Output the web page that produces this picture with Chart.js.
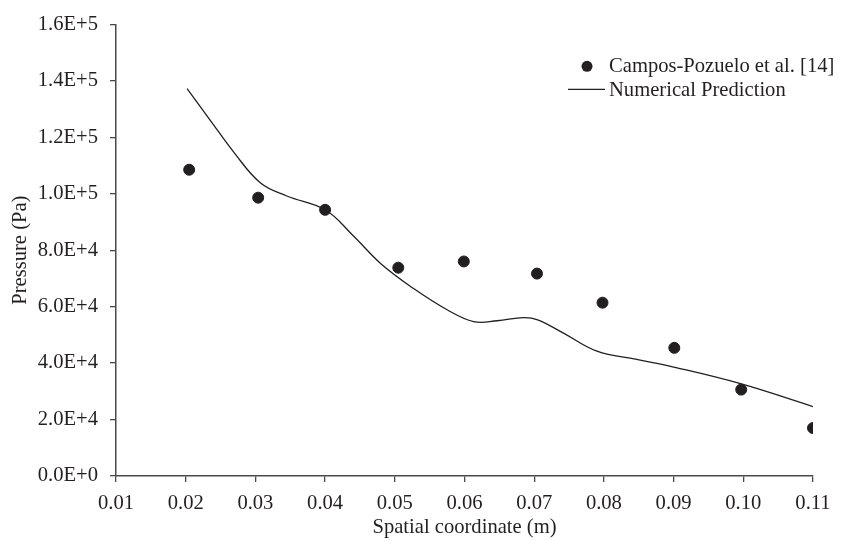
<!DOCTYPE html>
<html>
<head>
<meta charset="utf-8">
<script src="https://cdn.jsdelivr.net/npm/chart.js@4"></script>
<style>
  html, body { margin: 0; padding: 0; background: #fff; }
  #wrap { width: 842px; height: 541px; }
</style>
</head>
<body>
<div id="wrap"><canvas id="pressureChart" width="842" height="541"></canvas></div>
<script>
// measured points (Campos-Pozuelo et al.)
var expX = [0.0205, 0.0304, 0.0400, 0.0505, 0.0599, 0.0704, 0.0798, 0.0901, 0.0997, 0.1100];
var expY = [108500, 98600, 94300, 73800, 76000, 71700, 61400, 45400, 30600, 17000];

// numerical prediction curve
var numX = [0.0202, 0.0235, 0.027, 0.0307, 0.0345, 0.040, 0.044, 0.048, 0.0527, 0.0575,
            0.0613, 0.0647, 0.0685, 0.0705, 0.0742, 0.079, 0.0847, 0.090, 0.0996, 0.110];
var numY = [137200, 126100, 114400, 103900, 99200, 94300, 85200, 75200, 66400, 58900,
            54700, 55000, 56100, 55300, 50600, 44200, 41300, 38600, 32700, 24600];

var seriesLabels = ['Campos-Pozuelo et al. [14]', 'Numerical Prediction'];
var xTicks = { min: 0.01, max: 0.11, step: 0.01 };
var yTicks = { min: 0, max: 160000, step: 20000 };

(function () {
  var ink = '#231f20';
  var axisCol = '#4a4a4a';
  var font = { family: '"Liberation Serif", "Times New Roman", serif', size: 20.6 };

  function pts(xs, ys) {
    return xs.map(function (x, i) { return { x: x, y: ys[i] }; });
  }

  function sci(v) {
    if (v === 0) return '0.0E+0';
    var e = Math.floor(Math.log10(v) + 1e-9);
    return (v / Math.pow(10, e)).toFixed(1) + 'E+' + e;
  }

  // legend drawn inside the plot, top right
  var innerLegend = {
    id: 'innerLegend',
    afterDraw: function (chart) {
      var c = chart.ctx, a = chart.chartArea;
      var tx = a.right - 204, y1 = a.top + 42, y2 = a.top + 65;
      c.save();
      c.font = font.size + 'px ' + font.family;
      c.fillStyle = ink;
      c.textBaseline = 'middle';
      c.textAlign = 'left';
      c.beginPath();
      c.arc(tx - 22, y1, 5.5, 0, Math.PI * 2);
      c.fill();
      c.fillText(chart.data.datasets[0].label, tx, y1);
      c.strokeStyle = ink;
      c.lineWidth = 1.3;
      c.beginPath();
      c.moveTo(tx - 41, y2);
      c.lineTo(tx - 4, y2);
      c.stroke();
      c.fillText(chart.data.datasets[1].label, tx, y2 + 1);
      c.restore();
    }
  };

  new Chart(document.getElementById('pressureChart'), {
    type: 'scatter',
    data: {
      datasets: [{
        label: seriesLabels[0],
        data: pts(expX, expY),
        backgroundColor: ink,
        borderColor: ink,
        pointRadius: 5.5,
        pointHoverRadius: 5.5,
        showLine: false,
      }, {
        label: seriesLabels[1],
        data: pts(numX, numY),
        borderColor: ink,
        borderWidth: 1.3,
        pointRadius: 0,
        showLine: true,
        tension: 0.4,
      }],
    },
    options: {
      responsive: false,
      animation: false,
      layout: { padding: { left: 0, top: 20, right: 29, bottom: 0 } },
      plugins: { legend: { display: false }, tooltip: { enabled: false } },
      scales: {
        x: {
          type: 'linear',
          min: xTicks.min,
          max: xTicks.max,
          afterFit: function (s) { s.height = 65; },
          ticks: {
            stepSize: xTicks.step,
            color: ink,
            font: font,
            padding: 9,
            maxRotation: 0,
            callback: function (v) { return v.toFixed(2); },
          },
          grid: { drawOnChartArea: false, tickLength: 6, color: axisCol, lineWidth: 1.3 },
          border: { color: axisCol, width: 1.5 },
          title: { display: true, text: 'Spatial coordinate (m)', color: ink, font: font, padding: 1 },
        },
        y: {
          min: yTicks.min,
          max: yTicks.max,
          afterFit: function (s) { s.width = 116; },
          ticks: {
            stepSize: yTicks.step,
            color: ink,
            font: font,
            padding: 12,
            callback: function (v) { return sci(v); },
          },
          grid: { drawOnChartArea: false, tickLength: 6, color: axisCol, lineWidth: 1.3 },
          border: { color: axisCol, width: 1.5 },
          title: { display: true, text: 'Pressure (Pa)', color: ink, font: font, padding: 8 },
        },
      },
    },
    plugins: [innerLegend],
  });
})();
</script>
</body>
</html>
